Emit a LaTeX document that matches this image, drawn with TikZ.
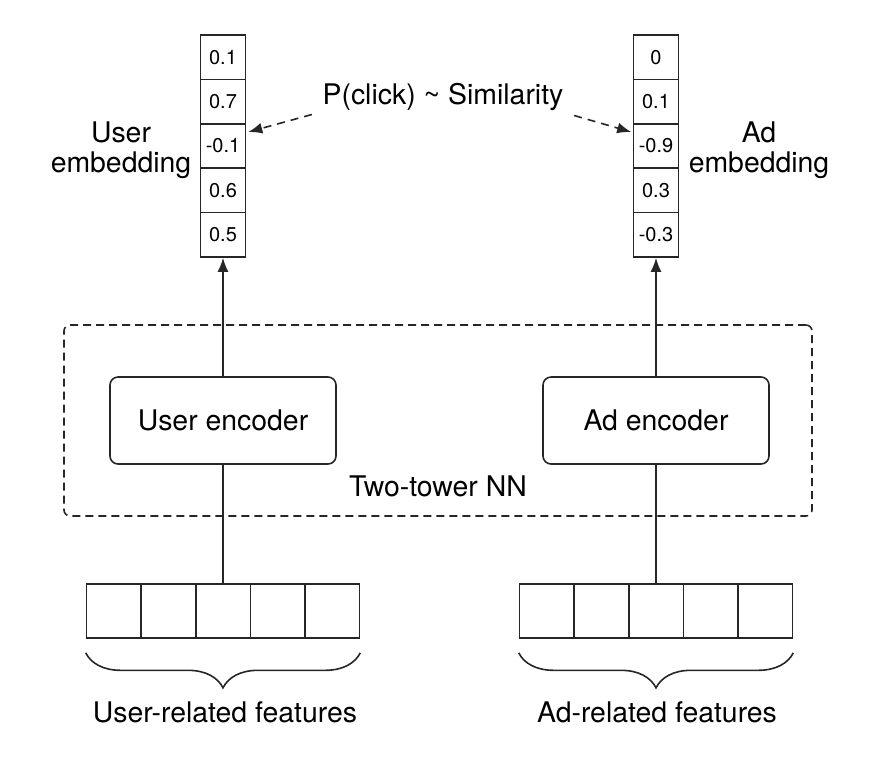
\documentclass[tikz,border=0pt]{standalone}
\usepackage{fontspec}
\setmainfont{TeX Gyre Heros}
\usepackage{tikz}
\usetikzlibrary{arrows.meta,shapes}
\usetikzlibrary{decorations.pathreplacing}
\colorlet{ln}{black!85}
\tikzstyle{tt}=[x=0.5pt, y=-0.5pt, line width=0.8pt, draw=ln,
                every node/.style={text=black, inner sep=0,
                font=\fontsize{14.2}{15}\selectfont},
                >={Latex[length=7pt,width=5.5pt]}]
\tikzstyle{cell}=[draw=ln, minimum width=22.5pt, minimum height=22.2pt,
                  font=\fontsize{10}{12}\selectfont]
\tikzstyle{feat}=[draw=ln, minimum width=27.3pt, minimum height=27pt]
\tikzstyle{enc}=[draw=ln, rounded corners=4pt, minimum width=113pt,
                 minimum height=43.5pt]
\tikzstyle{nnbox}=[draw=ln, dash pattern=on 4pt off 2.5pt, rounded corners=3pt,
                   minimum width=374pt, minimum height=95.5pt]
\tikzstyle{dsh}=[dash pattern=on 4pt off 3pt]
\tikzstyle{brc}=[decorate, decoration={brace, mirror, amplitude=17.5pt}]
\begin{document}
\begin{tikzpicture}[tt]
    \useasboundingbox (0,0) rectangle (870,756);
    % two-tower box
    \node[nnbox] (nn) at (438,420.5) {};
    \node (nnl) at (438,486) {Two-tower NN};
    % embeddings
    \node[cell] (u1) at (223,57.2) {0.1};
    \node[cell] (u2) at (223,101.6) {0.7};
    \node[cell] (u3) at (223,146) {-0.1};
    \node[cell] (u4) at (223,190.4) {0.6};
    \node[cell] (u5) at (223,234.8) {0.5};
    \node[cell] (a1) at (656,57.2) {0};
    \node[cell] (a2) at (656,101.6) {0.1};
    \node[cell] (a3) at (656,146) {-0.9};
    \node[cell] (a4) at (656,190.4) {0.3};
    \node[cell] (a5) at (656,234.8) {-0.3};
    \node[align=center] (ul) at (121,150) {User\\embedding};
    \node[align=center] (al) at (759,150) {Ad\\embedding};
    \node (sim) at (443,96.5) {P(click) \textasciitilde{} Similarity};
    % encoders
    \node[enc] (ue) at (223,420.5) {User encoder};
    \node[enc] (ae) at (656,420.5) {Ad encoder};
    % features
    \node[feat] (uf1) at (113.8,611) {};
    \node[feat] (uf2) at (168.4,611) {};
    \node[feat] (uf3) at (223,611) {};
    \node[feat] (uf4) at (277.6,611) {};
    \node[feat] (uf5) at (332.2,611) {};
    \node[feat] (af1) at (546.8,611) {};
    \node[feat] (af2) at (601.4,611) {};
    \node[feat] (af3) at (656,611) {};
    \node[feat] (af4) at (710.6,611) {};
    \node[feat] (af5) at (765.2,611) {};
    \node (ufl) at (225,712) {User-related features};
    \node (afl) at (657,712) {Ad-related features};
    \path[->]
      (ue) edge (u5)
      (ae) edge (a5);
    \path
      (uf3) edge (ue)
      (af3) edge (ae);
    \path[->, dsh]
      ([xshift=-5pt,yshift=-1.75pt]sim.south west) edge ([xshift=1pt,yshift=-4.5pt]u3.north east)
      ([xshift=5pt,yshift=-2.25pt]sim.south east) edge ([xshift=-0.75pt,yshift=-4.5pt]a3.north west);
    \draw[brc] ([yshift=-7pt]uf1.south west) -- ([yshift=-7pt]uf5.south east);
    \draw[brc] ([yshift=-7pt]af1.south west) -- ([yshift=-7pt]af5.south east);
  \end{tikzpicture}
\end{document}
